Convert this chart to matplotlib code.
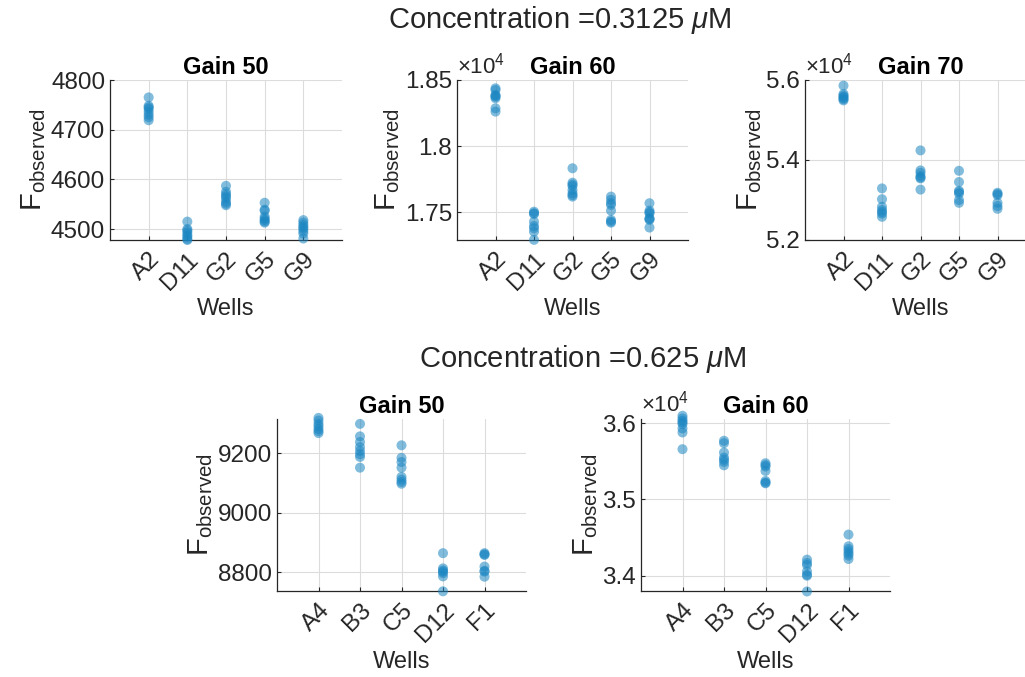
import matplotlib
matplotlib.use("Agg")
import matplotlib.pyplot as plt
from matplotlib.ticker import FuncFormatter

plt.rcParams['font.family'] = ['Liberation Sans', 'DejaVu Sans']
plt.rcParams['mathtext.fontset'] = 'custom'
plt.rcParams['mathtext.rm'] = 'Liberation Sans'
plt.rcParams['mathtext.it'] = 'Liberation Sans:italic'

# --- data (F observed per well) ---
wells_top = ['A2', 'D11', 'G2', 'G5', 'G9']
wells_bot = ['A4', 'B3', 'C5', 'D12', 'F1']

top_gain50 = {
    'A2':  [4765, 4748, 4745, 4742, 4736, 4730, 4725, 4719],
    'D11': [4515, 4500, 4497, 4493, 4488, 4485, 4480, 4478],
    'G2':  [4587, 4575, 4570, 4566, 4562, 4555, 4551, 4548],
    'G5':  [4553, 4539, 4537, 4525, 4521, 4518, 4515, 4513],
    'G9':  [4518, 4513, 4508, 4504, 4501, 4496, 4491, 4481],
}
top_gain60 = {
    'A2':  [18437, 18424, 18387, 18380, 18374, 18362, 18286, 18261],
    'D11': [17505, 17493, 17488, 17430, 17397, 17380, 17354, 17292],
    'G2':  [17833, 17724, 17710, 17699, 17669, 17644, 17630, 17619],
    'G5':  [17619, 17594, 17570, 17556, 17513, 17443, 17430, 17422],
    'G9':  [17569, 17513, 17500, 17493, 17456, 17450, 17443, 17385],
}
top_gain70 = {
    'A2':  [55860, 55650, 55610, 55580, 55550, 55520, 55490],
    'D11': [53290, 53020, 52830, 52750, 52700, 52660, 52580],
    'G2':  [54240, 53740, 53680, 53600, 53560, 53540, 53260],
    'G5':  [53730, 53450, 53230, 53200, 53160, 53000, 52930],
    'G9':  [53180, 53150, 53120, 52930, 52850, 52780],
}
bot_gain50 = {
    'A4':  [9318, 9309, 9298, 9290, 9281, 9274, 9267],
    'B3':  [9298, 9256, 9237, 9220, 9207, 9196, 9187, 9151],
    'C5':  [9226, 9184, 9170, 9151, 9120, 9111, 9103, 9097],
    'D12': [8864, 8813, 8806, 8802, 8797, 8786, 8736],
    'F1':  [8864, 8860, 8858, 8819, 8805, 8802, 8785],
}
bot_gain60 = {
    'A4':  [36096, 36061, 36031, 36010, 35987, 35930, 35877, 35658],
    'B3':  [35768, 35737, 35614, 35548, 35520, 35491, 35447],
    'C5':  [35474, 35450, 35430, 35373, 35241, 35220, 35211],
    'D12': [34211, 34167, 34140, 34057, 34013, 34000, 33794],
    'F1':  [34539, 34386, 34351, 34320, 34290, 34263, 34219],
}

W, H = 1025, 677
fig = plt.figure(figsize=(W / 100, H / 100), dpi=100)

dot_color = '#1a86c2'
text_col = '#262626'


def make_panel(px, title, wells, data, ylim, yticks, scaled):
    l, r, t, b = px
    ax = fig.add_axes([l / W, (H - b) / H, (r - l) / W, (b - t) / H])
    for i, w in enumerate(wells):
        vals = data[w]
        ax.scatter([i + 1] * len(vals), vals, s=52, color=dot_color,
                   alpha=0.55, edgecolors='none', zorder=3, clip_on=False)
    ax.set_xlim(0, 6)
    ax.set_ylim(*ylim)
    ax.set_xticks(range(1, len(wells) + 1))
    ax.set_xticklabels(wells, rotation=45, ha='right', rotation_mode='anchor')
    ax.set_yticks(yticks)
    if scaled:
        ax.yaxis.set_major_formatter(FuncFormatter(lambda v, p: f'{v / 1e4:g}'))
        ax.text(0.0, 1.01, r'$\times10^4$', transform=ax.transAxes,
                fontsize=16, color=text_col, ha='left', va='bottom')
    else:
        ax.yaxis.set_major_formatter(FuncFormatter(lambda v, p: f'{v:g}'))
    ax.tick_params(direction='in', length=3, labelsize=17.5, colors=text_col,
                   width=0.8)
    ax.tick_params(axis='x', pad=6)
    for side in ['top', 'right']:
        ax.spines[side].set_visible(False)
    for side in ['left', 'bottom']:
        ax.spines[side].set_color(text_col)
        ax.spines[side].set_linewidth(0.9)
    ax.grid(True, color='#dcdcdc', linewidth=0.8, zorder=0)
    ax.set_axisbelow(True)
    ax.set_title(title, fontsize=17, fontweight='bold', pad=4)
    ax.set_xlabel('Wells', fontsize=17, color=text_col, labelpad=3)
    ax.set_ylabel(r'$\mathregular{F_{observed}}$', fontsize=21, color=text_col,
                  labelpad=2)
    return ax


make_panel((110, 342, 80, 240), 'Gain 50', wells_top, top_gain50,
           (4478, 4800), [4500, 4600, 4700, 4800], False)
make_panel((457, 688, 80, 240), 'Gain 60', wells_top, top_gain60,
           (17291, 18500), [17500, 18000, 18500], True)
make_panel((805, 1036, 80, 240), 'Gain 70', wells_top, top_gain70,
           (52000, 56000), [52000, 54000, 56000], True)
make_panel((277, 526, 418.5, 591), 'Gain 50', wells_bot, bot_gain50,
           (8737, 9316), [8800, 9000, 9200], False)
make_panel((641, 890, 418.5, 591), 'Gain 60', wells_bot, bot_gain60,
           (33800, 36060), [34000, 35000, 36000], True)

fig.text(560 / W, 1 - 20 / H, r'Concentration =0.3125 $\mu$M', fontsize=21,
         ha='center', va='center', color=text_col)
fig.text(583 / W, 1 - 359 / H, r'Concentration =0.625 $\mu$M', fontsize=21,
         ha='center', va='center', color=text_col)

fig.savefig('out.png', dpi=100)
